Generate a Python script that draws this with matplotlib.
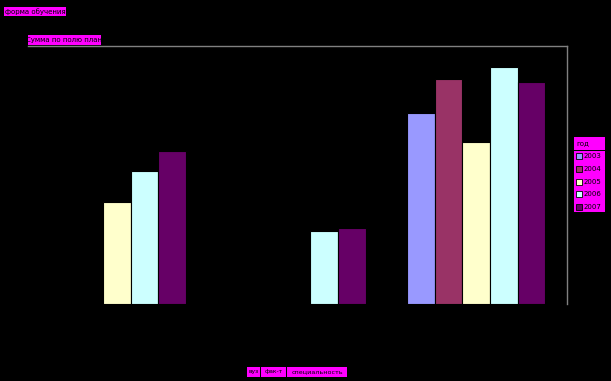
import numpy as np
import matplotlib
matplotlib.use("Agg")
import matplotlib.pyplot as plt
from matplotlib.patches import Rectangle

# data
categories = ["вуз 1", "вуз 2", "вуз 3"]
years = ["2003", "2004", "2005", "2006", "2007"]
values = {
    "2003": [np.nan, np.nan, 191],
    "2004": [np.nan, np.nan, 225],
    "2005": [102, np.nan, 162],
    "2006": [133, 73, 237],
    "2007": [153, 76, 222],
}
colors = ["#9999FF", "#993366", "#FFFFCC", "#CCFFFF", "#660066"]

page_field = "форма обучения"
data_field = "Сумма по полю план"
row_fields = ["вуз", "фак-т", "специальность"]
legend_title = "год"

W, H = 611, 381
fig = plt.figure(figsize=(W / 100, H / 100), dpi=100)
fig.patch.set_facecolor("black")

# plot area in pixels: left 28, right 567, top 46, bottom 304
ax = fig.add_axes([28 / W, 1 - 304 / H, (567 - 28) / W, (304 - 46) / H])
ax.set_facecolor("black")

n = len(years)
width = 138 / 179.5 / n
x = np.arange(len(categories))
for i, yr in enumerate(years):
    ax.bar(x - 70 / 179.5 + width * (i + 0.5), values[yr], width,
           color=colors[i], edgecolor="black", linewidth=0.8)

ax.set_xlim(-0.5, len(categories) - 0.5)
ax.set_ylim(0, 258)
ax.set_xticks([])
ax.set_yticks([])
for s in ["left", "bottom"]:
    ax.spines[s].set_visible(False)
for s in ["top", "right"]:
    ax.spines[s].set_color("#808080")
    ax.spines[s].set_linewidth(1)


def button(x0, y0, x1, y1, text, ha="center", size=5):
    # magenta field button, pixel coords from top-left
    fig.patches.append(Rectangle((x0 / W, 1 - y1 / H), (x1 - x0) / W, (y1 - y0) / H,
                                 transform=fig.transFigure, facecolor="#FF00FF",
                                 edgecolor="none", zorder=5))
    tx = (x0 + x1) / 2 if ha == "center" else x0 + 2
    fig.text(tx / W, 1 - (y0 + y1) / 2 / H, text, fontsize=size, color="black",
             ha=ha, va="center", zorder=6)


button(4, 7, 66, 16, page_field)
button(28, 35, 101, 45, data_field)
button(247, 367, 260, 377, row_fields[0], size=4.3)
button(261, 367, 286, 377, row_fields[1], size=4.3)
button(287, 367, 347, 377, row_fields[2], size=4.6)

# legend
button(574, 137, 605, 150, legend_title, ha="left")
fig.patches.append(Rectangle((574 / W, 1 - 212 / H), 31 / W, 61 / H,
                             transform=fig.transFigure, facecolor="#FF00FF",
                             edgecolor="none", zorder=5))
for i, yr in enumerate(years):
    yc = 156 + i * 12.8
    fig.patches.append(Rectangle((576 / W, 1 - (yc + 3) / H), 6 / W, 6 / H,
                                 transform=fig.transFigure, facecolor=colors[i],
                                 edgecolor="black", linewidth=0.6, zorder=6))
    fig.text(584 / W, 1 - yc / H, yr, fontsize=5, color="black",
             ha="left", va="center", zorder=6)

fig.savefig("out.png", dpi=100, facecolor="black")
